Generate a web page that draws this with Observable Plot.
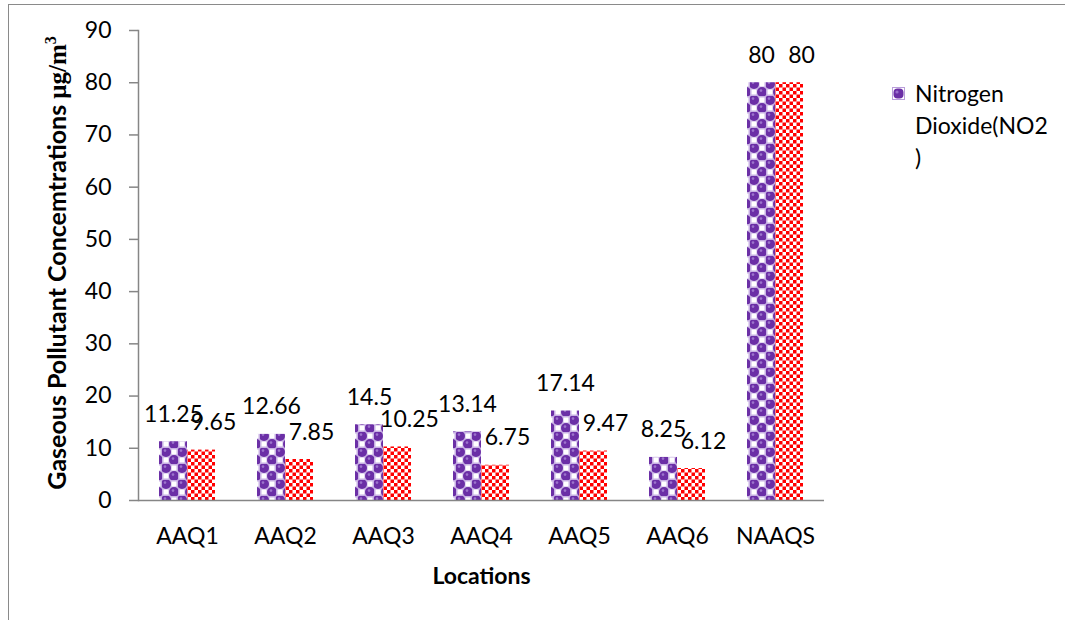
<!DOCTYPE html>
<html>
<head>
<meta charset="utf-8">
<script src="https://cdn.jsdelivr.net/npm/d3@7"></script>
<script src="https://cdn.jsdelivr.net/npm/@observablehq/plot@0.6"></script>
<style>
  html, body { margin: 0; padding: 0; background: #fff; }
  #wrap { position: relative; width: 1065px; height: 620px; overflow: hidden; background: #fff; font-family: Lato, sans-serif; }
  #border { position: absolute; left: 8px; top: 4px; width: 1100px; height: 700px; border-left: 1.5px solid #8a8a8a; border-top: 1.5px solid #8a8a8a; pointer-events: none; }
  #chart { position: absolute; left: 0; top: 0; }
  #legend { position: absolute; left: 892px; top: 77px; font-family: Lato, sans-serif; font-size: 23px; line-height: 32px; color: #000; }
  #legend .sw { position: absolute; left: 0; top: 10px; width: 13px; height: 13px; }
  #legend .txt { position: absolute; left: 23px; top: 0; white-space: nowrap; }
</style>
</head>
<body>
<div id="wrap">
  <div id="border"></div>
  <div id="chart"></div>
  <div id="legend">
    <svg class="sw" width="13" height="13" viewBox="0 0 13 13">
      <rect width="13" height="13" fill="#b99ddb"></rect>
      <rect x="1" y="1" width="11" height="11" fill="#ffffff"></rect>
      <rect x="1.5" y="1.5" width="10" height="10" rx="4" fill="#6b2fa6"></rect>
      <circle cx="5" cy="5" r="1.6" fill="#9a6fcc"></circle>
    </svg>
    <div class="txt">Nitrogen<br>Dioxide(NO2<br>)</div>
  </div>
</div>
<script>
// ---- data ----
const locations = ["AAQ1", "AAQ2", "AAQ3", "AAQ4", "AAQ5", "AAQ6", "NAAQS"];
const seriesNames = ["Nitrogen Dioxide(NO2)", "Sulphur Dioxide(SO2)"];
const no2Values = [11.25, 12.66, 14.5, 13.14, 17.14, 8.25, 80];
const so2Values = [9.65, 7.85, 10.25, 6.75, 9.47, 6.12, 80];
const yTicks = [0, 10, 20, 30, 40, 50, 60, 70, 80, 90];

const rows = [];
locations.forEach((loc, i) => {
  rows.push({loc, series: seriesNames[0], value: no2Values[i]});
  rows.push({loc, series: seriesNames[1], value: so2Values[i]});
});
const no2Rows = rows.filter(d => d.series === seriesNames[0]);
const so2Rows = rows.filter(d => d.series === seriesNames[1]);

const axisColor = "#868686";

const chart = Plot.plot({
  width: 1065,
  height: 620,
  marginLeft: 136,
  marginRight: 239,
  marginTop: 30,
  marginBottom: 120,
  style: {fontFamily: "Lato, sans-serif", fontSize: "23px", color: "#000", background: "transparent", overflow: "visible"},
  fx: {domain: locations, padding: 0, label: "Locations", axis: null},
  x: {domain: seriesNames, paddingInner: 0, paddingOuter: 0.727, axis: null},
  y: {domain: [0, 90], axis: null},
  marks: [
    Plot.barY(no2Rows, {fx: "loc", x: "series", y: "value", fill: "url(#patNO2)"}),
    Plot.barY(so2Rows, {fx: "loc", x: "series", y: "value", fill: "url(#patSO2)"}),
    Plot.ruleY([0], {stroke: axisColor, strokeWidth: 1.5}),
    Plot.frame({anchor: "left", facetAnchor: "left", stroke: axisColor, strokeWidth: 1.5}),
    Plot.axisY({ticks: yTicks, tickSize: 9, tickPadding: 18, stroke: axisColor, strokeWidth: 1.5, label: null, fontSize: 23, tickFormat: d3.format("d")}),
    Plot.axisFx({anchor: "bottom", tickSize: 0, tickPadding: 27, fontSize: 23, label: "Locations", labelAnchor: "center", labelArrow: "none", labelOffset: 83}),
    Plot.text(no2Rows, {fx: "loc", x: "series", y: "value", text: d => String(d.value), dy: -20, lineAnchor: "bottom", fontSize: 23, fill: "#000"}),
    Plot.text(so2Rows, {fx: "loc", x: "series", y: "value", text: d => String(d.value), dx: 12, dy: -20, lineAnchor: "bottom", fontSize: 23, fill: "#000"})
  ]
});

const svg = d3.select(chart);
const defs = svg.insert("defs", ":first-child");
// purple bead checkerboard
const p1 = defs.append("pattern").attr("id", "patNO2").attr("patternUnits", "userSpaceOnUse").attr("width", 16).attr("height", 16);
p1.append("rect").attr("width", 16).attr("height", 16).attr("fill", "#c7b0e3");
p1.append("rect").attr("x", 9.5).attr("y", 1.5).attr("width", 5).attr("height", 5).attr("fill", "#fff");
p1.append("rect").attr("x", 1.5).attr("y", 9.5).attr("width", 5).attr("height", 5).attr("fill", "#fff");
p1.append("circle").attr("cx", 4).attr("cy", 4).attr("r", 5).attr("fill", "#6b2fa6");
p1.append("circle").attr("cx", 12).attr("cy", 12).attr("r", 5).attr("fill", "#6b2fa6");
p1.append("circle").attr("cx", 3).attr("cy", 2.6).attr("r", 1.3).attr("fill", "#9c74cc");
p1.append("circle").attr("cx", 11).attr("cy", 10.6).attr("r", 1.3).attr("fill", "#9c74cc");
// red small checkerboard
const p2 = defs.append("pattern").attr("id", "patSO2").attr("patternUnits", "userSpaceOnUse").attr("width", 7).attr("height", 7);
p2.append("rect").attr("width", 7).attr("height", 7).attr("fill", "#fff");
p2.append("rect").attr("width", 3.5).attr("height", 3.5).attr("fill", "#ff0000");
p2.append("rect").attr("x", 3.5).attr("y", 3.5).attr("width", 3.5).attr("height", 3.5).attr("fill", "#ff0000");

svg.selectAll('[aria-label="fx-axis label"]').style("font-weight", "bold");

// y-axis title with serif unit
const t = svg.append("text")
  .attr("transform", "translate(57,263) rotate(-90)")
  .attr("text-anchor", "middle")
  .attr("dy", "0.35em")
  .style("font-family", "Lato, sans-serif")
  .style("font-weight", "bold")
  .style("font-size", "25px")
  .attr("fill", "#000");
t.append("tspan").text("Gaseous Pollutant Concemtrations ");
t.append("tspan").style("font-family", "'Liberation Serif', 'DejaVu Serif', serif").text("μg/m");
t.append("tspan").style("font-family", "'Liberation Serif', 'DejaVu Serif', serif").style("font-size", "16px").attr("dy", "-0.6em").text("3");

document.getElementById("chart").appendChild(chart);
</script>
</body>
</html>
